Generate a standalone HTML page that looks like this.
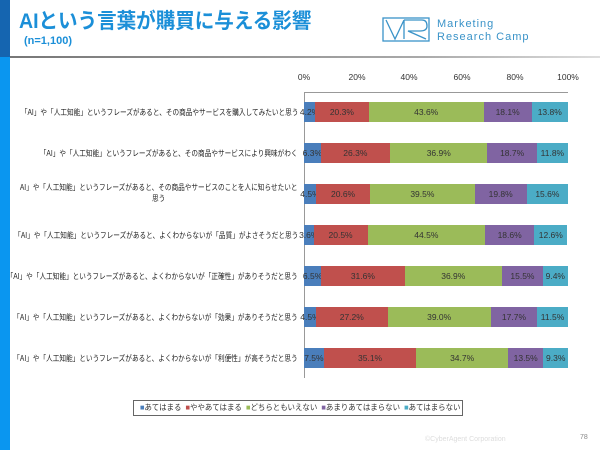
<!DOCTYPE html>
<html><head><meta charset="utf-8"><style>
body{margin:0;width:600px;height:450px;background:#fff;position:relative;overflow:hidden;font-family:"Liberation Sans","Noto Sans CJK JP",sans-serif}
.a{position:absolute}
.lab{position:absolute;right:302px;font-size:8px;color:#222;text-align:right;white-space:nowrap;line-height:11px;transform:scaleX(0.83);transform-origin:right center}
.bar{position:absolute;left:304px;width:264px;height:20px;display:flex}
.bar div{height:20px;font-size:8.5px;color:#333;display:flex;align-items:center;justify-content:center;white-space:nowrap;overflow:visible}
.t{position:absolute;top:72px;font-size:8.5px;color:#333;transform:translateX(-50%)}
</style></head><body>
<div class="a" style="left:0;top:0;width:10px;height:57px;background:#1565b0"></div>
<div class="a" style="left:0;top:57px;width:10px;height:393px;background:#0a96f0"></div>
<div class="a" style="left:10px;top:56px;width:590px;height:2px;background:linear-gradient(90deg,#777,#aaa 70%,#ddd)"></div>
<div class="a" style="left:19px;top:5px;font-size:21px;font-weight:bold;color:#1b8fd8;transform:scaleX(0.93);transform-origin:left">AIという言葉が購買に与える影響</div>
<div class="a" style="left:24px;top:35px;font-size:11px;font-weight:bold;color:#1b8fd8">(n=1,100)</div>
<svg class="a" style="left:382px;top:17px" width="48" height="25"><g fill="none" stroke="#3a93c8" stroke-width="1.3"><rect x="1" y="1" width="46" height="23"/><path d="M4 3 L13 22 L22 3 M22 3 V22 M22 3 H40 Q45 3 45 9 Q45 14 38 14 H26 L44 22"/></g></svg>
<div class="a" style="left:437px;top:18px;font-size:11px;color:#3a93c8;letter-spacing:1px;line-height:13px">Marketing<br>Research Camp</div>

<div class="t" style="left:304px">0%</div><div class="t" style="left:357px">20%</div><div class="t" style="left:409px">40%</div><div class="t" style="left:462px">60%</div><div class="t" style="left:515px">80%</div><div class="t" style="left:568px">100%</div>
<div class="a" style="left:304px;top:92px;width:264px;height:1px;background:#999"></div>
<div class="a" style="left:304px;top:92px;width:1px;height:286px;background:#999"></div>

<div class="lab" style="top:107px">「AI」や「人工知能」というフレーズがあると、その商品やサービスを購入してみたいと思う</div>
<div class="bar" style="top:102px"><div style="width:4.2%;background:#4a7ebb">4.2%</div><div style="width:20.3%;background:#c0504d">20.3%</div><div style="width:43.6%;background:#9bbb59">43.6%</div><div style="width:18.1%;background:#8064a2">18.1%</div><div style="width:13.8%;background:#4bacc6">13.8%</div></div>

<div class="lab" style="top:148px">「AI」や「人工知能」というフレーズがあると、その商品やサービスにより興味がわく</div>
<div class="bar" style="top:143px"><div style="width:6.3%;background:#4a7ebb">6.3%</div><div style="width:26.3%;background:#c0504d">26.3%</div><div style="width:36.9%;background:#9bbb59">36.9%</div><div style="width:18.7%;background:#8064a2">18.7%</div><div style="width:11.8%;background:#4bacc6">11.8%</div></div>

<div class="lab" style="top:182px;text-align:center">AI」や「人工知能」というフレーズがあると、その商品やサービスのことを人に知らせたいと<br>思う</div>
<div class="bar" style="top:184px"><div style="width:4.5%;background:#4a7ebb">4.5%</div><div style="width:20.6%;background:#c0504d">20.6%</div><div style="width:39.5%;background:#9bbb59">39.5%</div><div style="width:19.8%;background:#8064a2">19.8%</div><div style="width:15.6%;background:#4bacc6">15.6%</div></div>

<div class="lab" style="top:230px">「AI」や「人工知能」というフレーズがあると、よくわからないが「品質」がよさそうだと思う</div>
<div class="bar" style="top:225px"><div style="width:3.6%;background:#4a7ebb">3.6%</div><div style="width:20.5%;background:#c0504d">20.5%</div><div style="width:44.5%;background:#9bbb59">44.5%</div><div style="width:18.6%;background:#8064a2">18.6%</div><div style="width:12.6%;background:#4bacc6">12.6%</div></div>

<div class="lab" style="top:271px">「AI」や「人工知能」というフレーズがあると、よくわからないが「正確性」がありそうだと思う</div>
<div class="bar" style="top:266px"><div style="width:6.5%;background:#4a7ebb">6.5%</div><div style="width:31.6%;background:#c0504d">31.6%</div><div style="width:36.9%;background:#9bbb59">36.9%</div><div style="width:15.5%;background:#8064a2">15.5%</div><div style="width:9.4%;background:#4bacc6">9.4%</div></div>

<div class="lab" style="top:312px">「AI」や「人工知能」というフレーズがあると、よくわからないが「効果」がありそうだと思う</div>
<div class="bar" style="top:307px"><div style="width:4.5%;background:#4a7ebb">4.5%</div><div style="width:27.2%;background:#c0504d">27.2%</div><div style="width:39.0%;background:#9bbb59">39.0%</div><div style="width:17.7%;background:#8064a2">17.7%</div><div style="width:11.5%;background:#4bacc6">11.5%</div></div>

<div class="lab" style="top:353px">「AI」や「人工知能」というフレーズがあると、よくわからないが「利便性」が高そうだと思う</div>
<div class="bar" style="top:348px"><div style="width:7.5%;background:#4a7ebb">7.5%</div><div style="width:35.1%;background:#c0504d">35.1%</div><div style="width:34.7%;background:#9bbb59">34.7%</div><div style="width:13.5%;background:#8064a2">13.5%</div><div style="width:9.3%;background:#4bacc6">9.3%</div></div>

<div class="a" style="left:133px;top:400px;width:328px;height:14px;border:1px solid #666"></div>
<div class="a" style="left:140px;top:400px;font-size:8px;color:#333;line-height:16px;white-space:nowrap;transform:scaleX(0.93);transform-origin:left center">
<span style="color:#4a7ebb">■</span>あてはまる&nbsp;&nbsp;<span style="color:#c0504d">■</span>ややあてはまる&nbsp;&nbsp;<span style="color:#9bbb59">■</span>どちらともいえない&nbsp;&nbsp;<span style="color:#8064a2">■</span>あまりあてはまらない&nbsp;&nbsp;<span style="color:#4bacc6">■</span>あてはまらない</div>
<div class="a" style="left:425px;top:436px;font-size:7px;color:#ddd">©CyberAgent Corporation</div>
<div class="a" style="left:580px;top:434px;font-size:7px;color:#888">78</div>
</body></html>
